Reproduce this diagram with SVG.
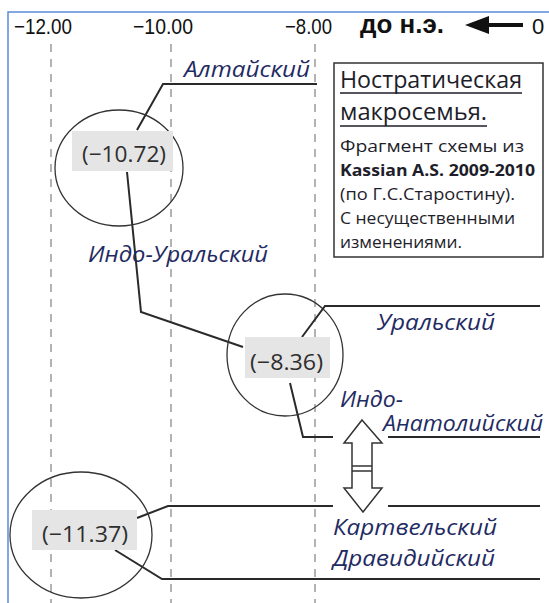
<svg xmlns="http://www.w3.org/2000/svg" width="549" height="603" viewBox="0 0 549 603">
<style>
.ax{font-family:"Liberation Sans",Arial,sans-serif;font-size:22px;fill:#111}
.grid{stroke:#b3b3b3;stroke-width:2;stroke-dasharray:8 7;fill:none}
.ring{fill:none;stroke:#333;stroke-width:1.3}
.box{fill:#e5e5e5}
.num{font-family:"Open Sans","Liberation Sans",sans-serif;font-size:22px;fill:#2e2e2e}
.lbl{font-family:"Open Sans","Liberation Sans",sans-serif;font-style:italic;font-size:22px;fill:#1f2b63}
.con{fill:none;stroke:#2a2a2a;stroke-width:2}
.note{font-family:"Open Sans","Liberation Sans",sans-serif;font-size:16.5px;fill:#1e1e2a}
.title{font-family:"Open Sans","Liberation Sans",sans-serif;font-size:23px;fill:#1e1e2a}
</style>
<rect x="0" y="0" width="549" height="603" fill="#fff"/>
<path d="M8 603 V12 H549" fill="none" stroke="#5b8ad6" stroke-width="1.5"/>
<g id="axis">
<text class="ax" x="14" y="34" textLength="58" lengthAdjust="spacingAndGlyphs">−12.00</text>
<text class="ax" x="133" y="34" textLength="60" lengthAdjust="spacingAndGlyphs">−10.00</text>
<text class="ax" x="285" y="34" textLength="47" lengthAdjust="spacingAndGlyphs">−8.00</text>
<text x="360" y="33" font-family="'Liberation Sans',Arial,sans-serif" font-size="25" font-weight="bold" fill="#111" textLength="84" lengthAdjust="spacingAndGlyphs">до н.э.</text>
<line x1="480" y1="25" x2="523" y2="25" stroke="#111" stroke-width="4"/>
<polygon points="465,25 489,16 489,34" fill="#111"/>
<text class="ax" x="532" y="34">0</text>
<line class="grid" x1="51" y1="44" x2="51" y2="603"/>
<line class="grid" x1="171" y1="44" x2="171" y2="603"/>
<line class="grid" x1="315" y1="44" x2="315" y2="603"/>
</g>
<g id="connectors">
<path class="con" d="M137 130 L163 84 H317"/>
<path class="con" d="M127 172 L141 312 L243 347"/>
<path class="con" d="M302 337 L325 306 H540"/>
<path class="con" d="M290 383 L303 437 H333"/>
<path class="con" d="M388 437 H540"/>
<path class="con" d="M137 518 L168 506 H333"/>
<path class="con" d="M388 506 H540"/>
<path class="con" d="M115 550 L162 579 H540"/>
<g id="double-arrow">
<polygon points="362,420 382,443 372,443 372,488 382,488 363,512 344,488 352,488 352,443 344,443" fill="#fff" stroke="#333" stroke-width="1.5"/>
<line x1="352" y1="466" x2="372" y2="466" stroke="#333" stroke-width="1.5"/>
<line x1="352" y1="471" x2="372" y2="471" stroke="#333" stroke-width="1.5"/>
</g>
</g>
<g id="node-10-72">
<ellipse class="ring" cx="119" cy="168" rx="64" ry="58"/>
<rect class="box" x="72" y="131" width="101" height="40"/>
<text class="num" x="82" y="162" textLength="84" lengthAdjust="spacingAndGlyphs">(−10.72)</text>
</g>
<g id="node-8-36">
<ellipse class="ring" cx="285" cy="355" rx="58" ry="61"/>
<rect class="box" x="245" y="337" width="85" height="41"/>
<text class="num" x="250" y="370" textLength="73" lengthAdjust="spacingAndGlyphs">(−8.36)</text>
</g>
<g id="node-11-37">
<ellipse class="ring" cx="81" cy="535" rx="71" ry="63"/>
<rect class="box" x="32" y="510" width="105" height="40"/>
<text class="num" x="42" y="542" textLength="86" lengthAdjust="spacingAndGlyphs">(−11.37)</text>
</g>
<g id="labels">
<text class="lbl" x="184" y="77" textLength="126" lengthAdjust="spacingAndGlyphs">Алтайский</text>
<text class="lbl" x="88" y="262" textLength="180" lengthAdjust="spacingAndGlyphs">Индо-Уральский</text>
<text class="lbl" x="377" y="330" textLength="118" lengthAdjust="spacingAndGlyphs">Уральский</text>
<text class="lbl" x="340" y="407" textLength="63" lengthAdjust="spacingAndGlyphs">Индо-</text>
<text class="lbl" x="383" y="431" textLength="160" lengthAdjust="spacingAndGlyphs">Анатолийский</text>
<text class="lbl" x="333" y="535" textLength="164" lengthAdjust="spacingAndGlyphs">Картвельский</text>
<text class="lbl" x="333" y="566" textLength="162" lengthAdjust="spacingAndGlyphs">Дравидийский</text>
</g>
<g id="note">
<rect x="334" y="63" width="209" height="194" fill="#fff" stroke="#333" stroke-width="1.5"/>
<text class="title" x="340" y="88" textLength="182" lengthAdjust="spacingAndGlyphs">Ностратическая</text>
<line x1="340" y1="93" x2="522" y2="93" stroke="#1e1e2a" stroke-width="1.5"/>
<text class="title" x="340" y="120" textLength="147" lengthAdjust="spacingAndGlyphs">макросемья.</text>
<line x1="340" y1="126" x2="487" y2="126" stroke="#1e1e2a" stroke-width="1.5"/>
<text class="note" x="340" y="152" textLength="184" lengthAdjust="spacingAndGlyphs">Фрагмент схемы из</text>
<text class="note" x="340" y="176" font-weight="bold" textLength="195" lengthAdjust="spacingAndGlyphs">Kassian A.S. 2009-2010</text>
<text class="note" x="340" y="200" textLength="175" lengthAdjust="spacingAndGlyphs">(по Г.С.Старостину).</text>
<text class="note" x="340" y="224" textLength="175" lengthAdjust="spacingAndGlyphs">С несущественными</text>
<text class="note" x="340" y="248" textLength="122" lengthAdjust="spacingAndGlyphs">изменениями.</text>
</g>
</svg>
